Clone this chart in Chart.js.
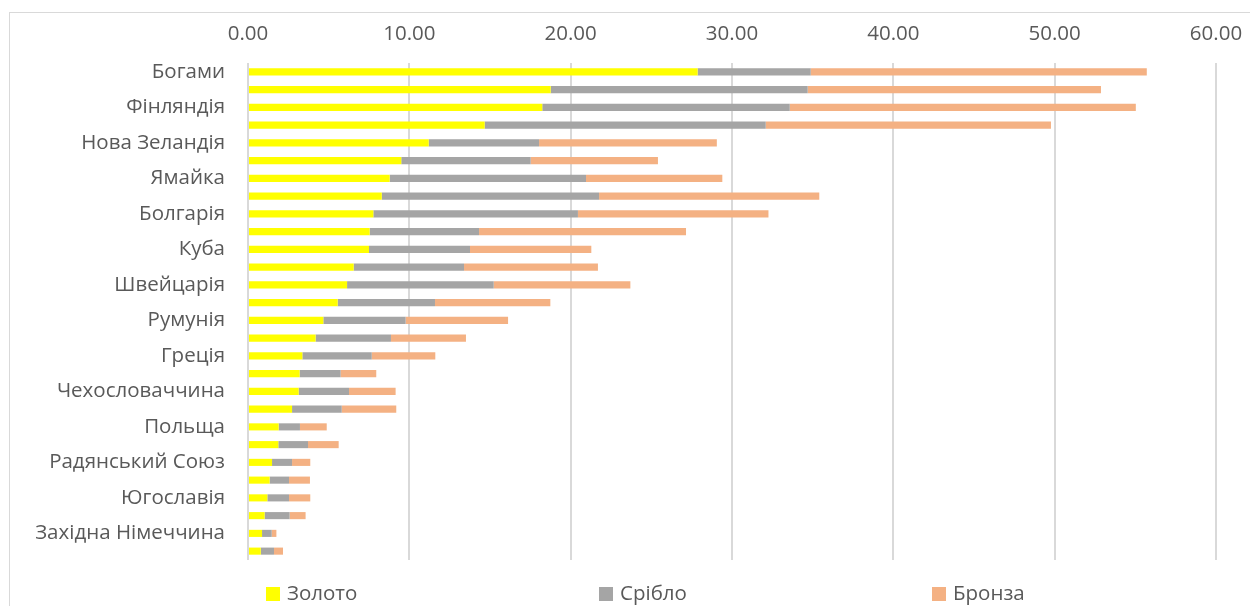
<!DOCTYPE html>
<html>
<head>
<meta charset="utf-8">
<script src="https://cdn.jsdelivr.net/npm/chart.js@4/dist/chart.umd.min.js"></script>
<style>
  html, body { margin: 0; padding: 0; background: #ffffff; overflow: hidden; }
  #wrap { position: relative; width: 1250px; height: 606px; }
  #frame {
    position: absolute; left: 9px; top: 12px; width: 1400px; height: 800px;
    border-top: 1.5px solid #d9d9d9; border-left: 1.5px solid #d9d9d9;
  }
  #c { position: absolute; left: 0; top: 0; }
</style>
</head>
<body>
<div id="wrap">
  <div id="frame"></div>
  <canvas id="c" width="1250" height="606"></canvas>
</div>
<script>
// Countries, top to bottom; only every second name is printed on the axis
const categories = [
  'Богами', '', 'Фінляндія', '', 'Нова Зеландія', '', 'Ямайка', '',
  'Болгарія', '', 'Куба', '', 'Швейцарія', '', 'Румунія', '',
  'Греція', '', 'Чехословаччина', '', 'Польща', '', 'Радянський Союз', '',
  'Югославія', '', 'Західна Німеччина', ''
];

const gold = [
  27.87, 18.76, 18.24, 14.67, 11.20, 9.50, 8.78, 8.29, 7.77, 7.54,
  7.50, 6.55, 6.14, 5.56, 4.67, 4.19, 3.37, 3.20, 3.14, 2.73,
  1.90, 1.88, 1.49, 1.34, 1.20, 1.03, 0.87, 0.79
];
const silver = [
  7.01, 15.93, 15.34, 17.42, 6.84, 8.02, 12.17, 13.47, 12.68, 6.78,
  6.26, 6.84, 9.09, 6.03, 5.10, 4.67, 4.30, 2.54, 3.12, 3.08,
  1.32, 1.84, 1.24, 1.20, 1.34, 1.55, 0.60, 0.82
];
const bronze = [
  20.83, 18.18, 21.45, 17.68, 11.02, 7.89, 8.45, 13.65, 11.81, 12.83,
  7.52, 8.30, 8.47, 7.15, 6.35, 4.65, 3.94, 2.21, 2.89, 3.38,
  1.66, 1.90, 1.13, 1.30, 1.32, 0.99, 0.29, 0.56
];

const seriesNames = ['Золото', 'Срібло', 'Бронза'];
const seriesColors = ['#FFFF00', '#A5A5A5', '#F4B183'];
const axisTicks = { min: 0, max: 60, step: 10 };

const FONT = '"Open Sans", "Noto Sans", sans-serif';
const TEXT = '#595959';
const GRID = '#d9d9d9';

// Legend drawn as one evenly spaced row under the plot
const legendRow = {
  id: 'legendRow',
  afterDraw(chart, args, opts) {
    const ctx = chart.ctx;
    ctx.save();
    ctx.font = `${opts.size}px ${FONT}`;
    ctx.textBaseline = 'middle';
    ctx.textAlign = 'left';
    chart.data.datasets.forEach((ds, i) => {
      const x = chart.chartArea.left + opts.offset + i * opts.step;
      ctx.fillStyle = ds.backgroundColor;
      ctx.fillRect(x, opts.y - opts.box / 2, opts.box, opts.box);
      ctx.fillStyle = TEXT;
      ctx.fillText(ds.label, x + opts.box + opts.gap, opts.y);
    });
    ctx.restore();
  }
};

const seriesData = [gold, silver, bronze];

new Chart(document.getElementById('c'), {
  type: 'bar',
  data: {
    labels: categories,
    datasets: seriesNames.map((name, i) => ({
      label: name,
      data: seriesData[i],
      backgroundColor: seriesColors[i],
      borderWidth: 0,
      categoryPercentage: 1,
      barPercentage: 0.4
    }))
  },
  options: {
    indexAxis: 'y',
    responsive: false,
    animation: false,
    devicePixelRatio: 1,
    layout: { padding: { left: 10, right: 34, top: 12, bottom: 46 } },
    plugins: {
      legend: { display: false },
      tooltip: { enabled: false },
      legendRow: { y: 594, box: 14, gap: 7, offset: 18, step: 333, size: 20.5 }
    },
    scales: {
      x: {
        position: 'top',
        stacked: true,
        min: axisTicks.min,
        max: axisTicks.max,
        afterFit(scale) {
          scale.height = 51;
          scale.paddingLeft = 0;
          scale.paddingRight = 0;
        },
        ticks: {
          stepSize: axisTicks.step,
          padding: 17,
          color: TEXT,
          font: { family: FONT, size: 20.5 },
          callback: v => Number(v).toFixed(2)
        },
        grid: { color: GRID, lineWidth: 2, drawTicks: false },
        border: { display: false }
      },
      y: {
        stacked: true,
        afterFit(scale) { scale.width = 238; },
        ticks: {
          autoSkip: false,
          padding: 23,
          color: TEXT,
          font: { family: FONT, size: 20.5 }
        },
        grid: { display: false, drawTicks: false },
        border: { display: false }
      }
    }
  },
  plugins: [legendRow]
});
</script>
</body>
</html>
